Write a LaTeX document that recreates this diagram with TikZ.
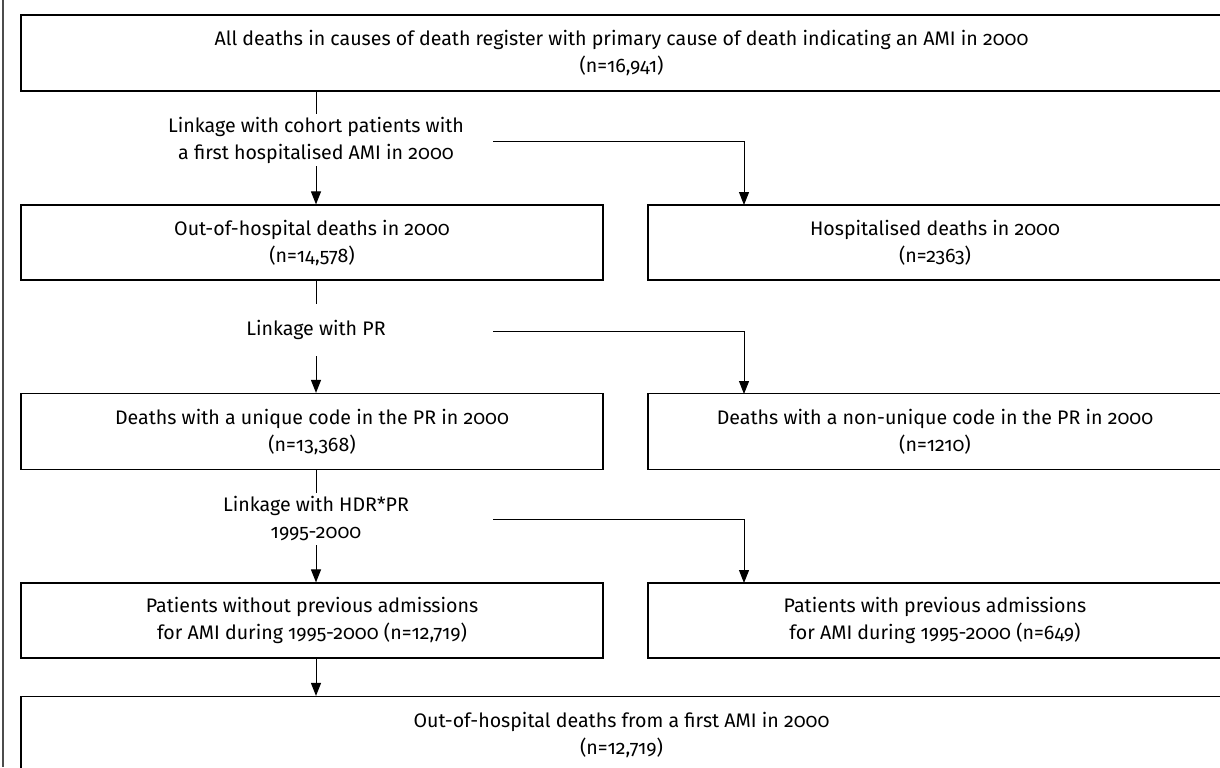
\documentclass[tikz,border=0pt]{standalone}
\usepackage{fontspec}
\setmainfont{Fira Sans}[Numbers=OldStyle]
\usetikzlibrary{positioning, arrows.meta}

\begin{document}
\begin{tikzpicture}[x=0.5pt, y=-0.5pt,
    regbox/.style={draw, line width=0.6pt, rectangle, align=center, inner sep=0pt},
    linktext/.style={align=center, inner sep=0pt, minimum height=26pt},
    flow/.style={line width=0.5pt, -{Triangle[length=6.5pt, width=5pt]}}]
        \useasboundingbox (0,0) rectangle (1220,767);
        \clip (0,0) rectangle (1220,767);
        \fontsize{9.8}{13.5}\selectfont

        % Frame line
        \draw[black!70, line width=0.6pt] (3,0) -- (3,767);

        % Boxes
        \node[regbox, minimum width=600.5pt, minimum height=38pt] (all) at (621.5,53)
            {All deaths in causes of death register with primary cause of death indicating an AMI in 2000\\(n=16,941)};
        \node[regbox, minimum width=291pt, minimum height=37.5pt] (outhosp) at (312,242.5)
            {Out-of-hospital deaths in 2000\\(n=14,578)};
        \node[regbox, minimum width=287pt, minimum height=37.5pt] (hosp) at (935,242.5)
            {Hospitalised deaths in 2000\\(n=2363)};
        \node[regbox, minimum width=291pt, minimum height=38pt] (unique) at (312,431.5)
            {Deaths with a unique code in the PR in 2000\\(n=13,368)};
        \node[regbox, minimum width=287pt, minimum height=38pt] (nonunique) at (935,431.5)
            {Deaths with a non-unique code in the PR in 2000\\(n=1210)};
        \node[regbox, minimum width=291pt, minimum height=37.5pt] (noprev) at (312,620.5)
            {Patients without previous admissions\\for AMI during 1995-2000 (n=12,719)};
        \node[regbox, minimum width=287pt, minimum height=37.5pt] (prev) at (935,620.5)
            {Patients with previous admissions\\for AMI during 1995-2000 (n=649)};
        \node[regbox, minimum width=600.5pt, minimum height=38pt] (final) at (621.5,734.5)
            {Out-of-hospital deaths from a first AMI in 2000\\(n=12,719)};

        % Linkage steps
        \node[linktext] (cohort) at (316,140) {Linkage with cohort patients with\\a first hospitalised AMI in 2000};
        \node[linktext] (linkpr) at (316,330) {Linkage with PR};
        \node[linktext] (linkhdr) at (316,519) {Linkage with HDR*PR\\1995-2000};

        \coordinate (b1s) at (493,141);
        \coordinate (b1e) at (744,205);
        \coordinate (b2s) at (493,331);
        \coordinate (b2e) at (744,394);
        \coordinate (b3s) at (493,519);
        \coordinate (b3e) at (744,583);

        % Edges
        \draw[line width=0.5pt] (all.south -| cohort) -- (cohort.north);
        \draw[flow] (cohort.south) -- (outhosp.north -| cohort);
        \draw[flow] (b1s) -| (b1e);

        \draw[line width=0.5pt] (outhosp.south -| linkpr) -- (linkpr.north);
        \draw[flow] (linkpr.south) -- (unique.north -| linkpr);
        \draw[flow] (b2s) -| (b2e);

        \draw[line width=0.5pt] (unique.south -| linkhdr) -- (linkhdr.north);
        \draw[flow] (linkhdr.south) -- (noprev.north -| linkhdr);
        \draw[flow] (b3s) -| (b3e);

        \draw[flow] (noprev.south -| linkhdr) -- (final.north -| linkhdr);
    \end{tikzpicture}
\end{document}
